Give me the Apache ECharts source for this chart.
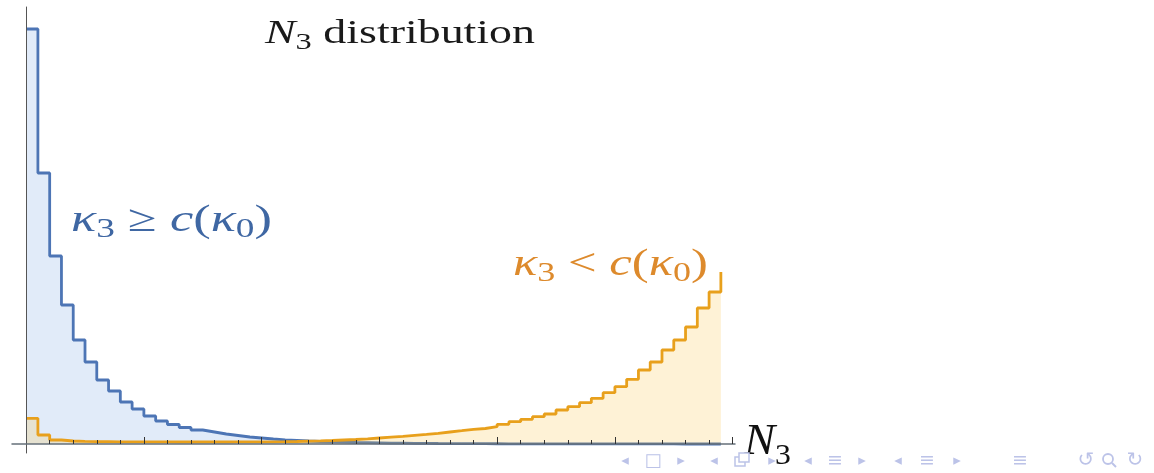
<!DOCTYPE html>
<html>
<head>
<meta charset="utf-8">
<script src="https://cdn.jsdelivr.net/npm/echarts@6/dist/echarts.min.js"></script>
<style>
  html, body { margin: 0; padding: 0; background: #ffffff; }
  #chart { width: 1154px; height: 473px; }
</style>
</head>
<body>
<div id="chart"></div>
<script>
// N3 values (one bin per integer value)
const n3Values = [
   0,  1,  2,  3,  4,  5,  6,  7,  8,  9,
  10, 11, 12, 13, 14, 15, 16, 17, 18, 19,
  20, 21, 22, 23, 24, 25, 26, 27, 28, 29,
  30, 31, 32, 33, 34, 35, 36, 37, 38, 39,
  40, 41, 42, 43, 44, 45, 46, 47, 48, 49,
  50, 51, 52, 53, 54, 55, 56, 57, 58, 59
];

// relative frequency, regime kappa_3 >= c(kappa_0)
const aboveFreq = [
  415, 271, 188, 139, 104, 82, 64, 53, 42, 35,
  28, 23, 19.5, 16.5, 14, 12, 10, 8.5, 7, 6,
  5, 4.2, 3.6, 3, 2.5, 2.1, 1.8, 1.5, 1.3, 1.1,
  0.9, 0.8, 0.7, 0.6, 0.5, 0.45, 0.4, 0.35, 0.3, 0.25,
  0.2, 0.2, 0.15, 0.15, 0.1, 0.1, 0.1, 0.1, 0.05, 0.05,
  0.05, 0.05, 0.05, 0.05, 0.05, 0, 0, 0, 0, 0
];

// relative frequency, regime kappa_3 < c(kappa_0)
const belowFreq = [
  25.7, 9, 4, 3, 2.6, 2.4, 2.3, 2.2, 2.2, 2.2,
  2.1, 2.1, 2.0, 2.0, 2.0, 2.0, 2.0, 2.1, 2.1, 2.2,
  2.2, 2.3, 2.5, 2.8, 3.1, 3.5, 4, 4.5, 5.2, 6,
  6.8, 7.6, 8.6, 9.6, 10.7, 12, 13.3, 14.7, 15.5, 17.3,
  19.7, 22.3, 24.7, 27.3, 30, 34, 37.3, 41.3, 45.7, 51.3,
  57.3, 64.7, 74, 82, 94, 104, 117, 136, 152, 172
];

const majorTicks = [10, 20, 30, 40, 50, 60];
const minorTicks = [2, 4, 6, 8, 12, 14, 16, 18, 22, 24, 26, 28, 32, 34, 36, 38,
                    42, 44, 46, 48, 52, 54, 56, 58];

const BLUE = '#4d75b5';
const ORANGE = '#e8a01c';
const BLUE_FILL = 'rgba(90, 145, 220, 0.18)';
const ORANGE_FILL = 'rgba(248, 190, 50, 0.2)';
const SERIF = '"Liberation Serif", "DejaVu Serif", serif';

const chart = echarts.init(document.getElementById('chart'), null, { renderer: 'canvas' });

// Typeset a small math-like label from pieces (italic letters, lowered subscripts),
// stretched horizontally to span [left, right] with its baseline at `baseline`.
const measure = document.createElement('canvas').getContext('2d');
function mathLabel(pieces, left, right, baseline, color) {
  let cursor = 0;
  const children = pieces.map(function (p) {
    const font = (p.italic ? 'italic ' : '') + p.size + 'px ' + SERIF;
    measure.font = font;
    const w = measure.measureText(p.t).width;
    const el = {
      type: 'text',
      x: cursor,
      y: (p.dy || 0) - 0.31 * p.size,
      style: { text: p.t, font: font, fill: color, align: 'left', verticalAlign: 'middle' }
    };
    cursor += w;
    return el;
  });
  return { type: 'group', x: left, y: baseline, scaleX: (right - left) / cursor, children: children, z: 10 };
}

function kappaLabel(rel) {
  return [
    { t: 'κ', italic: true, size: 38 },
    { t: '3', size: 27, dy: 5 },
    { t: ' ' + rel + ' ', size: 38 },
    { t: 'c', italic: true, size: 38 },
    { t: '(', size: 38 },
    { t: 'κ', italic: true, size: 38 },
    { t: '0', size: 27, dy: 5 },
    { t: ')', size: 38 }
  ];
}

// slide navigation glyphs along the lower edge
const NAV = '#bcc3e8';
const navGlyphs = [
  { t: '◂', x: 625, s: 15 }, { t: '□', x: 653, s: 18 }, { t: '▸', x: 681, s: 15 },
  { t: '◂', x: 714, s: 15 }, { t: '▸', x: 772, s: 15 },
  { t: '◂', x: 808, s: 15 }, { t: '≡', x: 835, s: 19 }, { t: '▸', x: 862, s: 15 },
  { t: '◂', x: 898, s: 15 }, { t: '≡', x: 927, s: 19 }, { t: '▸', x: 957, s: 15 },
  { t: '≡', x: 1020, s: 19 }, { t: '↺', x: 1086, s: 20 }, { t: '↻', x: 1135, s: 20 }
];
const navElements = navGlyphs.map(function (g) {
  return {
    type: 'text', x: g.x, y: 461, z: 1,
    style: { text: g.t, font: g.s + 'px "DejaVu Sans", sans-serif', fill: NAV, align: 'center', verticalAlign: 'middle' }
  };
}).concat([
  { type: 'rect', shape: { x: 735, y: 457, width: 10, height: 9 }, style: { fill: 'none', stroke: NAV, lineWidth: 1.5 }, z: 1 },
  { type: 'rect', shape: { x: 739, y: 453, width: 10, height: 9 }, style: { fill: '#ffffff', stroke: NAV, lineWidth: 1.5 }, z: 1 },
  { type: 'circle', shape: { cx: 1108, cy: 459, r: 5 }, style: { fill: 'none', stroke: NAV, lineWidth: 1.8 }, z: 1 },
  { type: 'line', shape: { x1: 1112, y1: 463, x2: 1116, y2: 467 }, style: { stroke: NAV, lineWidth: 2 }, z: 1 }
]);

function stepSeries(name, values, color, fill, z) {
  return {
    name: name,
    type: 'line',
    xAxisIndex: 0,
    yAxisIndex: 0,
    step: 'end',
    symbol: 'none',
    data: n3Values.map(function (n, i) { return [n, values[i]]; }),
    lineStyle: { color: color, width: 2.8 },
    itemStyle: { color: color },
    areaStyle: { color: fill, opacity: 1 },
    z: z,
    silent: true
  };
}

const option = {
  animation: false,
  backgroundColor: '#ffffff',
  grid: [
    { left: 12, right: 419, top: 7, bottom: 20, containLabel: false },
    { left: 12, right: 419, top: 7, bottom: 29, containLabel: false }
  ],
  xAxis: [
    { type: 'value', gridIndex: 0, min: -1.2, max: 60.2, show: false },
    {
      type: 'value', gridIndex: 1, min: -1.2, max: 60.2, position: 'bottom', z: 4,
      axisLine: { show: true, lineStyle: { color: '#66707a', width: 1.5 } },
      axisTick: { show: true, inside: true, length: 7, customValues: majorTicks, lineStyle: { color: '#333333', width: 1 } },
      axisLabel: { show: false }, splitLine: { show: false }
    },
    {
      type: 'value', gridIndex: 1, min: -1.2, max: 60.2, position: 'bottom', z: 4,
      axisLine: { show: false },
      axisTick: { show: true, inside: true, length: 4, customValues: minorTicks, lineStyle: { color: '#333333', width: 1 } },
      axisLabel: { show: false }, splitLine: { show: false }
    }
  ],
  yAxis: [
    {
      type: 'value', gridIndex: 0, min: -9, max: 437, z: 4,
      axisLine: { show: true, onZero: true, lineStyle: { color: '#555555', width: 1 } },
      axisTick: { show: false }, axisLabel: { show: false }, splitLine: { show: false }
    },
    { type: 'value', gridIndex: 1, min: 0, max: 1, show: false }
  ],
  series: [
    stepSeries('κ3 ≥ c(κ0)', aboveFreq, BLUE, BLUE_FILL, 2),
    stepSeries('κ3 < c(κ0)', belowFreq, ORANGE, ORANGE_FILL, 3)
  ],
  graphic: navElements.concat([
    mathLabel([
      { t: 'N', italic: true, size: 34 },
      { t: '3', size: 24, dy: 5 },
      { t: ' distribution', size: 34 }
    ], 265, 535, 45, '#1a1a1a'),
    mathLabel(kappaLabel('≥'), 71, 272, 233, '#3f67a3'),
    mathLabel(kappaLabel('<'), 513, 708, 277, '#dd8a2c'),
    mathLabel([
      { t: 'N', italic: true, size: 44 },
      { t: '3', size: 30, dy: 9 }
    ], 744, 791, 456, '#111111')
  ])
};

chart.setOption(option);
</script>
</body>
</html>
